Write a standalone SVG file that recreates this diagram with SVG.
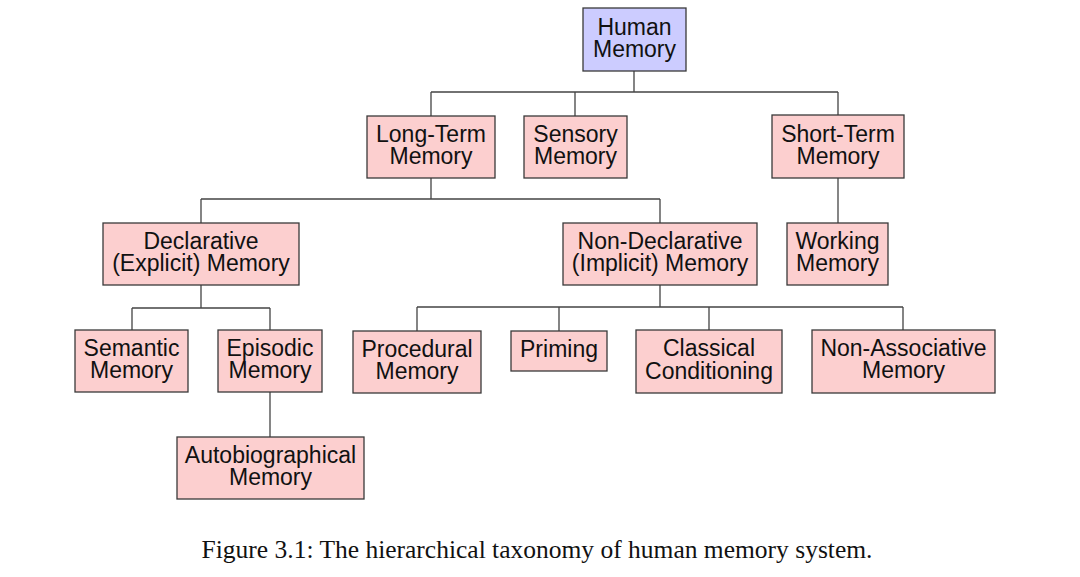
<svg xmlns="http://www.w3.org/2000/svg" width="1080" height="577" viewBox="0 0 1080 577">
<style>
.n{fill:#fccfcf;stroke:#3a3a3a;stroke-width:1.3}
.r{fill:#ccccff;stroke:#3a3a3a;stroke-width:1.3}
.t{font-family:"Liberation Sans",Arial,sans-serif;font-size:23px;fill:#111;text-anchor:middle}
.c{fill:none;stroke:#444;stroke-width:1.3}
.cap{font-family:"Liberation Serif","Times New Roman",serif;font-size:25.5px;fill:#111;text-anchor:middle}
</style>
<rect width="1080" height="577" fill="#fff"/>
<g id="connectors">
<path class="c" d="M634 71V92M431 92H838M431 92V116M575 92V116M838 92V115"/>
<path class="c" d="M431 178V199M201 199H660M201 199V223M660 199V223"/>
<path class="c" d="M838 178V223"/>
<path class="c" d="M201 285V308M132 308H270M132 308V330M270 308V330"/>
<path class="c" d="M270 392V437"/>
<path class="c" d="M660 285V307M417 307H903M417 307V331M559 307V331M709 307V330M903 307V330"/>
</g>
<g id="human"><rect class="r" x="583" y="8" width="103" height="63"/><text class="t" x="634.5" y="35">Human</text><text class="t" x="634.5" y="57">Memory</text></g>
<g id="longterm"><rect class="n" x="367" y="116" width="128" height="62"/><text class="t" x="431" y="142">Long-Term</text><text class="t" x="431" y="164">Memory</text></g>
<g id="sensory"><rect class="n" x="524" y="116" width="103" height="62"/><text class="t" x="575.5" y="142">Sensory</text><text class="t" x="575.5" y="164">Memory</text></g>
<g id="shortterm"><rect class="n" x="772" y="115" width="132" height="63"/><text class="t" x="838" y="142">Short-Term</text><text class="t" x="838" y="164">Memory</text></g>
<g id="working"><rect class="n" x="787" y="223" width="101" height="62"/><text class="t" x="837.5" y="249">Working</text><text class="t" x="837.5" y="271">Memory</text></g>
<g id="declarative"><rect class="n" x="103" y="223" width="196" height="62"/><text class="t" x="201" y="249">Declarative</text><text class="t" x="201" y="271">(Explicit) Memory</text></g>
<g id="nondeclarative"><rect class="n" x="563" y="223" width="194" height="62"/><text class="t" x="660" y="249">Non-Declarative</text><text class="t" x="660" y="271">(Implicit) Memory</text></g>
<g id="semantic"><rect class="n" x="75" y="330" width="113" height="62"/><text class="t" x="131.5" y="356">Semantic</text><text class="t" x="131.5" y="378">Memory</text></g>
<g id="episodic"><rect class="n" x="218" y="330" width="104" height="62"/><text class="t" x="270" y="356">Episodic</text><text class="t" x="270" y="378">Memory</text></g>
<g id="autobiographical"><rect class="n" x="177" y="437" width="187" height="62"/><text class="t" x="270.5" y="463">Autobiographical</text><text class="t" x="270.5" y="485">Memory</text></g>
<g id="procedural"><rect class="n" x="353" y="331" width="128" height="62"/><text class="t" x="417" y="357">Procedural</text><text class="t" x="417" y="379">Memory</text></g>
<g id="priming"><rect class="n" x="511" y="331" width="96" height="40"/><text class="t" x="559" y="357">Priming</text></g>
<g id="classical"><rect class="n" x="636" y="330" width="146" height="63"/><text class="t" x="709" y="356">Classical</text><text class="t" x="709" y="379">Conditioning</text></g>
<g id="nonassociative"><rect class="n" x="812" y="330" width="183" height="63"/><text class="t" x="903.5" y="356">Non-Associative</text><text class="t" x="903.5" y="378">Memory</text></g>
<text class="cap" x="537" y="558">Figure 3.1: The hierarchical taxonomy of human memory system.</text>
</svg>
